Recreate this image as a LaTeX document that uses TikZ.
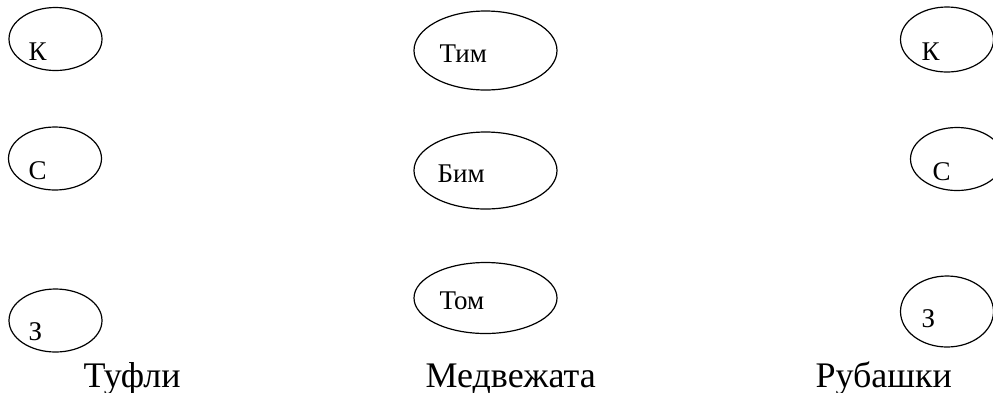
\documentclass[tikz,border=0pt]{standalone}
\usepackage{fontspec}
\setmainfont{Liberation Serif}
\usepackage{tikz}
\usetikzlibrary{positioning, shapes.geometric}
\tikzset{%
  every path/.style={line width=1.2pt},
    oval/.style={%
        ellipse,
        draw=black,
        inner sep=0pt,
        minimum width=93pt,
        minimum height=63pt,
    },
    bigoval/.style={%
        oval,
        minimum width=143pt,
        minimum height=78pt,
    },
    tag/.style={%
        anchor=base west,
        inner sep=0pt,
        font=\fontsize{27pt}{32pt}\selectfont,
    },
    heading/.style={%
        anchor=base west,
        inner sep=0pt,
        font=\fontsize{36pt}{42pt}\selectfont,
    },
}

\begin{document}
\begin{tikzpicture}[x=1pt, y=-1pt]
  \useasboundingbox (0,0) rectangle (993,392);

  % shoes
  \node [oval] at (55.5, 39) (shoe_k) {};
  \node [oval] at (55, 158.5) (shoe_s) {};
  \node [oval] at (55.5, 320.5) (shoe_z) {};
  \node [tag] at ([shift={(-27.5,21)}]shoe_k.center) (shoe_k_txt) {К};
  \node [tag] at ([shift={(-27,20.5)}]shoe_s.center) (shoe_s_txt) {С};
  \node [tag] at ([shift={(-27.5,19.5)}]shoe_z.center) (shoe_z_txt) {З};

  % bear cubs
  \node [bigoval, minimum height=79pt] at (485.5, 50.5) (cub_tim) {};
  \node [bigoval, minimum height=77pt] at (485.5, 170.5) (cub_bim) {};
  \node [bigoval, minimum height=71pt] at (485.5, 298) (cub_tom) {};
  \node [tag] at ([shift={(-46.5,11.5)}]cub_tim.center) (cub_tim_txt) {Тим};
  \node [tag] at ([shift={(-48.5,11.5)}]cub_bim.center) (cub_bim_txt) {Бим};
  \node [tag] at ([shift={(-46.5,11)}]cub_tom.center) (cub_tom_txt) {Том};

  % shirts
  \node [oval, minimum height=65pt] at (947, 39.5) (shirt_k) {};
  \node [oval] at (957, 159) (shirt_s) {};
  \node [oval, minimum height=71pt] at (947, 311.5) (shirt_z) {};
  \node [tag] at ([shift={(-26,20.5)}]shirt_k.center) (shirt_k_txt) {К};
  \node [tag] at ([shift={(-25,21)}]shirt_s.center) (shirt_s_txt) {С};
  \node [tag] at ([shift={(-26,15.5)}]shirt_z.center) (shirt_z_txt) {З};

  \node [heading] at (83, 387) (shoes) {Туфли};
  \node [heading] at (425, 387) (cubs) {Медвежата};
  \node [heading] at (815, 387) (shirts) {Рубашки};
\end{tikzpicture}
\end{document}
